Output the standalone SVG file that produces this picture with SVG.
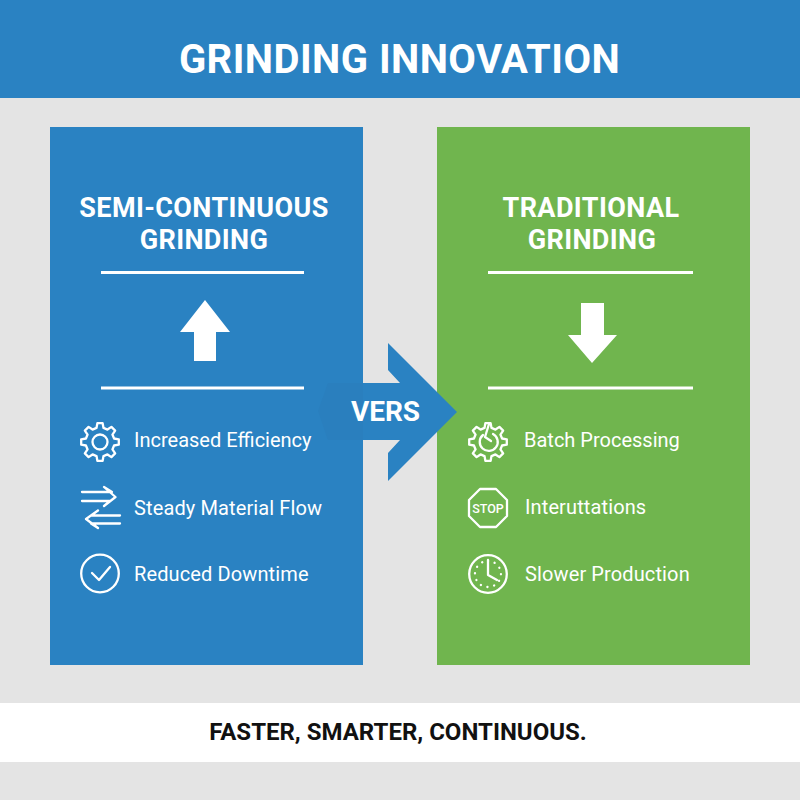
<svg xmlns="http://www.w3.org/2000/svg" width="800" height="800" viewBox="0 0 800 800">
<style>
text{font-family:Roboto,"Liberation Sans",sans-serif;fill:#fff}
.title{font-size:40px;font-weight:700;text-anchor:middle;letter-spacing:.45px}
.head{font-size:27px;font-weight:700;text-anchor:middle;letter-spacing:.4px}
.item{font-size:20px;font-weight:400;letter-spacing:.12px}
.tight{letter-spacing:0}
.ic{fill:none;stroke:#fff;stroke-width:2.3;stroke-linejoin:round;stroke-linecap:round}
.rule{stroke:#fff;stroke-width:3}
</style>
<defs>
<path id="gear" d="M-3.5-14.07L-2.64-18.8H2.64L3.5-14.07L7.47-12.43L11.43-15.17L15.17-11.43L12.43-7.47L14.07-3.5L18.8-2.64V2.64L14.07 3.5L12.43 7.47L15.17 11.43L11.43 15.17L7.47 12.43L3.5 14.07L2.64 18.8H-2.64L-3.5 14.07L-7.47 12.43L-11.43 15.17L-15.17 11.43L-12.43 7.47L-14.07 3.5L-18.8 2.64V-2.64L-14.07-3.5L-12.43-7.47L-15.17-11.43L-11.43-15.17L-7.47-12.43Z"/>
</defs>
<rect width="800" height="800" fill="#e4e4e4"/>
<g id="header"><rect width="800" height="98" fill="#2a82c2"/><text class="title" x="399.500" y="72.500">GRINDING INNOVATION</text></g>
<g id="panel-left">
<rect x="50" y="127" width="313" height="538" fill="#2a82c2"/>
<text class="head" x="204" y="217">SEMI-CONTINUOUS</text>
<text class="head" x="204" y="249">GRINDING</text>
<line class="rule" x1="101" y1="272.500" x2="304" y2="272.500"/>
<path d="M205 300L230 332H216V361H194V332H180Z" fill="#fff"/>
<line class="rule" x1="101" y1="388" x2="304" y2="388"/>
</g>
<g id="panel-right">
<rect x="437" y="127" width="313" height="538" fill="#70b54e"/>
<text class="head" x="591" y="217">TRADITIONAL</text>
<text class="head" x="592" y="249">GRINDING</text>
<line class="rule" x1="488" y1="272.500" x2="693" y2="272.500"/>
<path d="M581 303H604V335H617L592 363L568 335H581Z" fill="#fff"/>
<line class="rule" x1="488" y1="388" x2="693" y2="388"/>
</g>
<g id="versus">
<path d="M318 411L328 383H363V440H328Z" fill="#2a7fbe"/>
<path d="M363 383H400L388 370V343L457 412L388 481V453L400 440H363Z" fill="#2a82c2"/>
<text x="385.500" y="421" font-size="28" font-weight="700" text-anchor="middle">VERS</text>
</g>
<g id="item-efficiency"><use href="#gear" x="100" y="442" class="ic"/><circle cx="100" cy="442" r="7.500" class="ic"/><text class="item tight" x="134" y="447">Increased Efficiency</text></g>
<g id="item-flow"><path class="ic" d="M82 492H112L104 487L115.500 497L104 506L110 501H82M120 515.500H91L98 510.500L86 519L98 528L91 523.500H120"/><text class="item" x="134" y="515">Steady Material Flow</text></g>
<g id="item-downtime"><circle class="ic" cx="100" cy="573.500" r="18.800"/><path class="ic" d="M92 573L99 580L110 567"/><text class="item" x="134" y="581">Reduced Downtime</text></g>
<g id="item-batch"><use href="#gear" x="488" y="442" class="ic"/><path class="ic" d="M493 434A9 9 0 1 1 483 435M489 424L485 437L491 441"/><text class="item tight" x="524" y="447">Batch Processing</text></g>
<g id="item-stop"><path class="ic" d="M480 489H496L507 500V516L496 527H480L469 516V500Z"/><text x="488" y="512.500" font-size="12.500" font-weight="500" text-anchor="middle">STOP</text><text class="item" x="525" y="514">Interuttations</text></g>
<g id="item-slower"><circle class="ic" cx="488" cy="574" r="18.800"/><path class="ic" d="M488 560V575L497 580"/><path class="ic" stroke-dasharray="0.100 6.706" d="M488 561A13 13 0 1 1 487.900 561"/><text class="item" x="525" y="581">Slower Production</text></g>
<g id="footer"><rect y="703" width="800" height="59" fill="#fff"/><text x="398" y="740" font-size="24" font-weight="700" text-anchor="middle" style="fill:#111">FASTER, SMARTER, CONTINUOUS.</text></g>
</svg>
